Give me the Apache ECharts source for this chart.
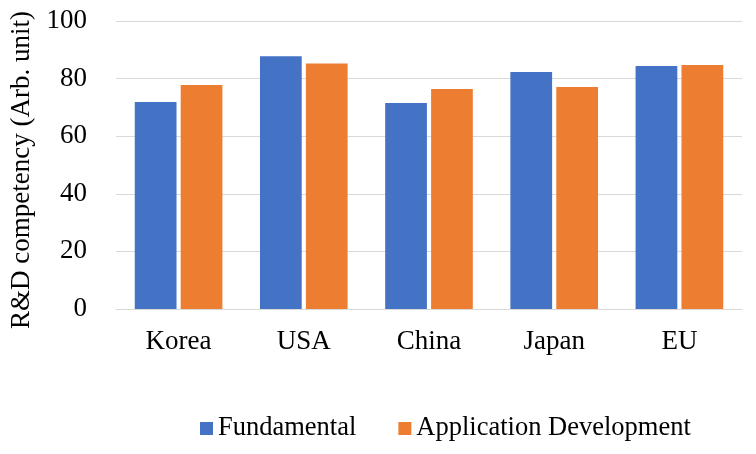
<!DOCTYPE html>
<html><head><meta charset="utf-8">
<script src="https://cdn.jsdelivr.net/npm/echarts@6/dist/echarts.min.js"></script>
<style>html,body{margin:0;padding:0;background:#fff}#c{width:756px;height:454px}</style>
</head><body><div id="c"></div>
<script>
const categories = ['Korea', 'USA', 'China', 'Japan', 'EU'];
const fundamental = [71.9, 87.8, 71.5, 82.3, 84.4];
const application = [77.8, 85.2, 76.4, 77.1, 84.7];
const seriesNames = ['Fundamental', 'Application Development'];
const yTicks = { min: 0, max: 100, interval: 20 };
const yName = 'R&D competency (Arb. unit)';

const font = 'Liberation Serif, Times New Roman, serif';
const chart = echarts.init(document.getElementById('c'), null, { renderer: 'canvas' });
chart.setOption({
  animation: false,
  backgroundColor: '#fff',
  grid: { left: 114, right: 14, top: 21, bottom: 145, containLabel: false },
  legend: {
    left: 200, top: 415, padding: 0,
    itemWidth: 13, itemHeight: 13, itemGap: 42,
    icon: 'rect',
    textStyle: { fontFamily: font, fontSize: 26.5, color: '#000' },
    data: seriesNames
  },
  xAxis: {
    type: 'category',
    data: categories,
    axisLine: { lineStyle: { color: '#d9d9d9', width: 1 } },
    axisTick: { show: false },
    axisLabel: { fontFamily: font, fontSize: 27, color: '#000', margin: 19 }
  },
  yAxis: {
    type: 'value',
    min: yTicks.min, max: yTicks.max, interval: yTicks.interval,
    name: yName,
    nameLocation: 'middle',
    nameGap: 81,
    nameTextStyle: { fontFamily: font, fontSize: 27, color: '#000', padding: [0, 10, 0, 0] },
    axisLine: { show: false },
    axisTick: { show: false },
    splitLine: { lineStyle: { color: '#d9d9d9', width: 1 } },
    axisLabel: { fontFamily: font, fontSize: 27, color: '#000', margin: 29 }
  },
  series: [
    { name: seriesNames[0], type: 'bar', data: fundamental, itemStyle: { color: '#4472C4' }, barGap: '10%', barCategoryGap: '30%' },
    { name: seriesNames[1], type: 'bar', data: application, itemStyle: { color: '#ED7D31' }, barGap: '10%', barCategoryGap: '30%' }
  ]
});
</script></body></html>
